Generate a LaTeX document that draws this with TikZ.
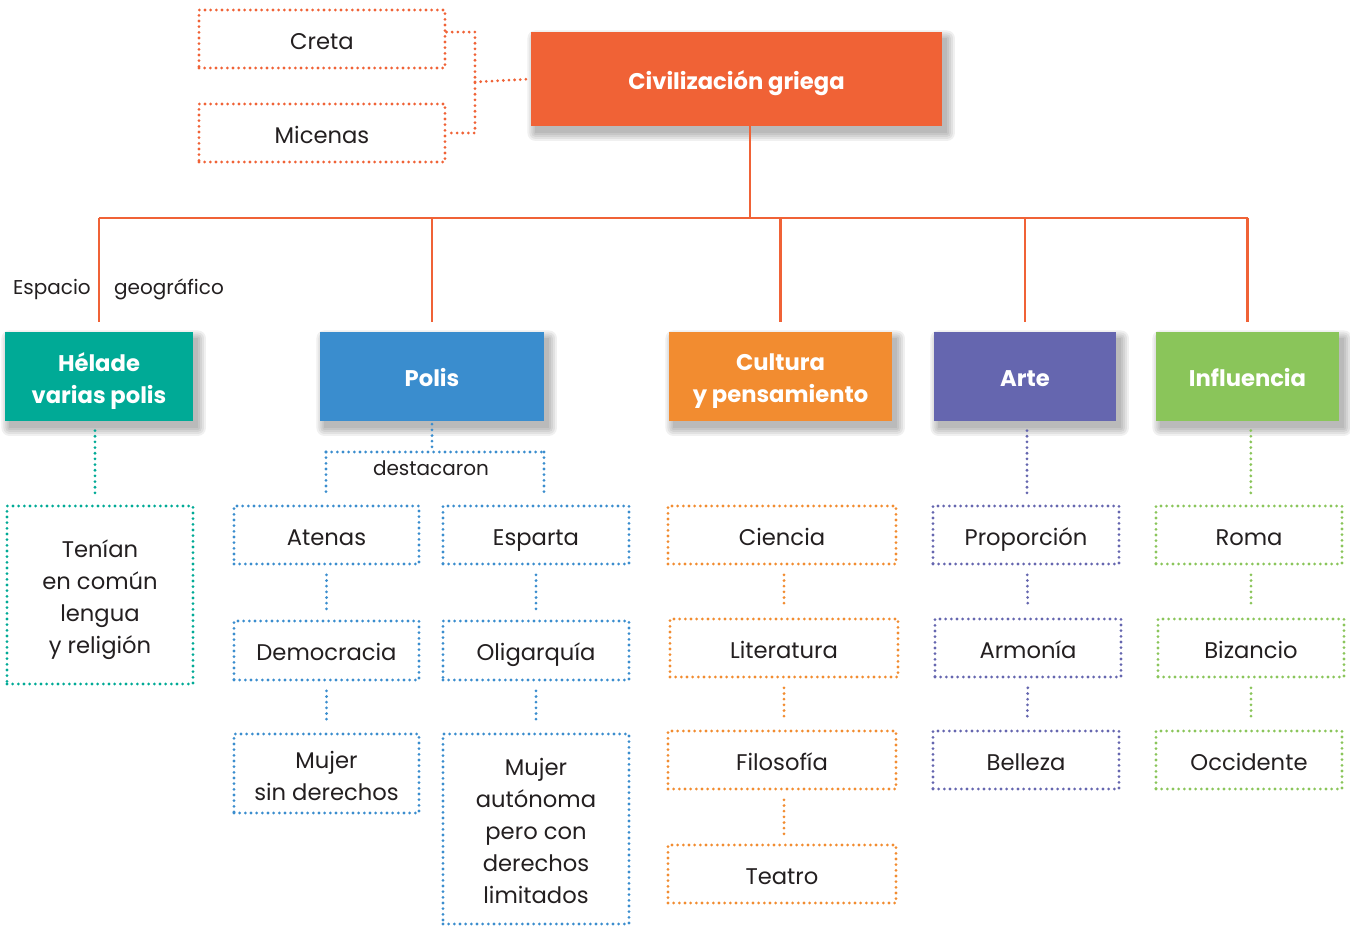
\documentclass[tikz,border=0pt]{standalone}
\usepackage{fontspec}
\setmainfont{Poppins}
\usetikzlibrary{backgrounds,calc}
\definecolor{cred}{HTML}{F06236}
\definecolor{cteal}{HTML}{00AA96}
\definecolor{cblue}{HTML}{3A8DCE}
\definecolor{corange}{HTML}{F28C30}
\definecolor{cpurple}{HTML}{6566AF}
\definecolor{cgreen}{HTML}{8AC55A}
\definecolor{tcol}{HTML}{231F20}
\newcommand\softshadow[1]{%
  \foreach \r in {0,1.5,3,4.5,6}{%
    \fill[black,opacity=0.06,rounded corners=\r pt]
      ([shift={({(3.5-\r)*1pt},{(-5+\r)*1pt})}]#1.north west) rectangle
      ([shift={({(3.5+\r)*1pt},{(-5-\r)*1pt})}]#1.south east);}}
% box macros: style, name, x, y, w, h, text
\newcommand\onebox[7]{%
  \node[#1, sz={#5}{#6}] (#2) at (#3,#4) {};
  \node[anchor=base, inner sep=0pt, txt#1] (#2-t) at ([yshift=-7.6pt]#2.center) {#7};}
\newcommand\multibox[8]{%
  \node[#1, sz={#5}{#6}] (#2) at (#3,#4) {};
  \node[inner sep=0pt, align=center, txt#1] (#2-t) at ([yshift=-#8 pt]#2.center) {#7};}
\begin{document}
\begin{tikzpicture}[x=0.75pt,y=-0.75pt,
  sz/.style 2 args={minimum width={#1*0.75pt}, minimum height={#2*0.75pt}},
  dotline/.style={line width=2.3pt, line cap=round, dash pattern=on 0pt off 4.25pt},
  dotR/.style={draw=cred, dotline, inner sep=0pt},
  dotT/.style={draw=cteal, dotline, inner sep=0pt},
  dotB/.style={draw=cblue, dotline, inner sep=0pt},
  dotO/.style={draw=corange, dotline, inner sep=0pt},
  dotP/.style={draw=cpurple, dotline, inner sep=0pt},
  dotG/.style={draw=cgreen, dotline, inner sep=0pt},
  txtdotR/.style={dtext}, txtdotT/.style={dtext}, txtdotB/.style={dtext},
  txtdotO/.style={dtext}, txtdotP/.style={dtext}, txtdotG/.style={dtext},
  dtext/.style={text=tcol, font=\fontsize{17}{24}\selectfont},
  solR/.style={fill=cred, inner sep=0pt},
  solT/.style={fill=cteal, inner sep=0pt},
  solB/.style={fill=cblue, inner sep=0pt},
  solO/.style={fill=corange, inner sep=0pt},
  solP/.style={fill=cpurple, inner sep=0pt},
  solG/.style={fill=cgreen, inner sep=0pt},
  txtsolR/.style={btext}, txtsolT/.style={btext}, txtsolB/.style={btext},
  txtsolO/.style={btext}, txtsolP/.style={btext}, txtsolG/.style={btext},
  btext/.style={text=white, font=\bfseries\fontsize{17}{24}\selectfont},
  lab/.style={text=tcol, inner sep=0pt, anchor=base, font=\fontsize{15}{18}\selectfont},
  redline/.style={draw=cred, line width=2.2pt},
  conn/.style={draw=#1, dotline, shorten <=7pt, shorten >=7pt}
]
\useasboundingbox (0,0) rectangle (1350,927);

% top
\onebox{dotR}{creta}{322}{39}{246}{58}{Creta}
\onebox{dotR}{micenas}{322}{133}{246}{58}{Micenas}
\onebox{solR}{civ}{736.5}{79}{411}{94}{Civilización griega}

% main boxes
\multibox{solT}{helade}{99}{376.5}{188}{89}{Hélade\\varias polis}{3.6}
\onebox{solB}{polis}{432}{376.5}{224}{89}{Polis}
\multibox{solO}{cultura}{780.5}{376.5}{223}{89}{Cultura\\y pensamiento}{3.6}
\onebox{solP}{arte}{1025}{376.5}{182}{89}{Arte}
\onebox{solG}{influ}{1247.5}{376.5}{183}{89}{Influencia}

\node[lab] (esp) at (52,295) {Espacio};
\node[lab] (geo) at (169,295) {geográfico};

% Hélade
\multibox{dotT}{tenian}{100}{595}{186}{178}{Tenían\\en común\\lengua\\y religión}{3.6}

% Polis
\node[lab] (dest) at (431,475) {destacaron};
\onebox{dotB}{atenas}{326.5}{535}{185}{58}{Atenas}
\onebox{dotB}{esparta}{536}{535}{186}{58}{Esparta}
\onebox{dotB}{democ}{326.5}{650.5}{185}{59}{Democracia}
\onebox{dotB}{oligar}{536}{650.5}{186}{59}{Oligarquía}
\multibox{dotB}{mujer1}{326.5}{773.5}{185}{79}{Mujer\\sin derechos}{1.6}
\multibox{dotB}{mujer2}{536}{829}{186}{190}{Mujer\\autónoma\\pero con\\derechos\\limitados}{1.6}

% Cultura
\onebox{dotO}{ciencia}{782}{535}{228}{58}{Ciencia}
\onebox{dotO}{liter}{784}{648}{228}{58}{Literatura}
\onebox{dotO}{filos}{782}{760}{228}{58}{Filosofía}
\onebox{dotO}{teatro}{782}{874}{228}{58}{Teatro}

% Arte
\onebox{dotP}{propor}{1026}{535}{186}{58}{Proporción}
\onebox{dotP}{armon}{1028}{648}{186}{58}{Armonía}
\onebox{dotP}{bell}{1026}{760}{186}{58}{Belleza}

% Influencia
\onebox{dotG}{roma}{1249}{535}{186}{58}{Roma}
\onebox{dotG}{bizan}{1251}{648}{186}{58}{Bizancio}
\onebox{dotG}{occid}{1249}{760}{186}{58}{Occidente}

% background and shadows
\begin{pgfonlayer}{background}
\fill[white] (0,0) rectangle (1350,927);
\foreach \n in {civ,helade,polis,cultura,arte,influ}{\softshadow{\n}}
\end{pgfonlayer}

% Creta / Micenas connector
\coordinate (jx) at (475,82);
\draw[dotline, draw=cred] ([yshift=5.2pt]creta.east) -| (jx) |- (micenas.east);
\draw[dotline, draw=cred] (jx) -- (civ.west);

% red tree
\coordinate (trunk) at (750,218);
\draw[redline] (civ.south -| trunk) -- (trunk);
\draw[redline] (helade.north |- trunk) -- (influ.north |- trunk);
\foreach \n in {helade,polis,cultura,arte,influ}{
  \draw[redline, shorten >=7.5pt] (\n.north |- trunk) -- (\n.north);}

% Hélade
\draw[conn=cteal] ([xshift=-3pt]helade.south) -- ([xshift=-3pt]helade.south |- tenian.north);

% Polis bracket
\coordinate (brL) at (326,452);
\coordinate (brR) at (544,452);
\draw[dotline, draw=cblue, shorten <=2.2pt] (polis.south) -- (polis.south |- brL);
\draw[dotline, draw=cblue] (brL) -- (brR);
\draw[dotline, draw=cblue, shorten >=9pt] (brL) -- (atenas.north -| brL);
\draw[dotline, draw=cblue, shorten >=9pt] (brR) -- (esparta.north -| brR);

\draw[conn=cblue] (atenas.south) -- (atenas.south |- democ.north);
\draw[conn=cblue] (democ.south) -- (democ.south |- mujer1.north);
\draw[conn=cblue] (esparta.south) -- (esparta.south |- oligar.north);
\draw[conn=cblue] (oligar.south) -- (oligar.south |- mujer2.north);

% Cultura
\draw[conn=corange] ([xshift=1.5pt]ciencia.south) -- (liter.north);
\draw[conn=corange] (liter.south) -- ([xshift=1.5pt]filos.north);
\draw[conn=corange] ([xshift=1.5pt]filos.south) -- ([xshift=1.5pt]teatro.north);

% Arte
\draw[conn=cpurple] ([xshift=1.5pt]arte.south) -- ([xshift=1.5pt]arte.south |- propor.north);
\draw[conn=cpurple] ([xshift=0.8pt]propor.south) -- (armon.north);
\draw[conn=cpurple] (armon.south) -- ([xshift=0.8pt]bell.north);

% Influencia
\draw[conn=cgreen] ([xshift=2.5pt]influ.south) -- ([xshift=2.5pt]influ.south |- roma.north);
\draw[conn=cgreen] ([xshift=1.5pt]roma.south) -- (bizan.north);
\draw[conn=cgreen] (bizan.south) -- ([xshift=1.5pt]occid.north);
\end{tikzpicture}
\end{document}
